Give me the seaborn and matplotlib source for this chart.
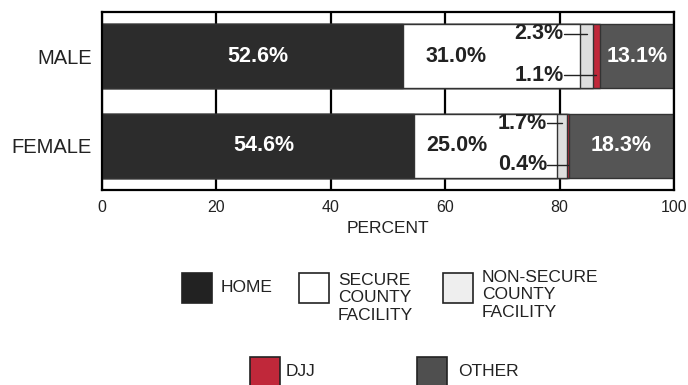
import matplotlib
matplotlib.use("Agg")
import matplotlib.pyplot as plt
from matplotlib.patches import Rectangle
import numpy as np
import pandas as pd
import seaborn as sns

# ---- data ----
groups = ["MALE", "FEMALE"]
categories = ["HOME", "SECURE\nCOUNTY\nFACILITY", "NON-SECURE\nCOUNTY\nFACILITY", "DJJ", "OTHER"]
home = [52.6, 54.6]
secure = [31.0, 25.0]
nonsecure = [2.3, 1.7]
djj = [1.1, 0.4]
other = [13.1, 18.3]
x_ticks = [0, 20, 40, 60, 80, 100]

colors = ["#2c2c2c", "#ffffff", "#dedede", "#c0283a", "#555555"]
legend_colors = ["#222222", "#ffffff", "#eeeeee", "#c0283a", "#4f4f4f"]

sns.set_theme(style="white")
plt.rcParams["font.family"] = ["Liberation Sans", "DejaVu Sans"]

series = [home, secure, nonsecure, djj, other]
cum = np.cumsum(np.array(series), axis=0)

fig = plt.figure(figsize=(6.88, 3.85), dpi=100)
W, H = 688, 385
ax = fig.add_axes([101.5 / W, 1 - 190 / H, (674 - 101.5) / W, (190 - 12) / H])

bar_h = 0.72
# stacked bars drawn as cumulative totals, longest first
for i in reversed(range(len(series))):
    df = pd.DataFrame({"group": groups, "value": cum[i]})
    sns.barplot(data=df, x="value", y="group", orient="y", color=colors[i],
                saturation=1, width=bar_h, edgecolor="#333333", linewidth=1.0,
                ax=ax, zorder=2)

ax.set_xlim(0, 100)
ax.set_ylim(1.494, -0.494)
ax.set_xticks(x_ticks)
ax.set_xticklabels([str(t) for t in x_ticks])
ax.xaxis.grid(True, color="black", linewidth=1.6, zorder=0)
ax.yaxis.grid(False)
ax.set_axisbelow(True)
for s in ax.spines.values():
    s.set_color("black")
    s.set_linewidth(1.6)
    s.set_visible(True)
ax.tick_params(axis="x", length=0, pad=7, labelsize=11.5, colors="#222222")
ax.tick_params(axis="y", length=0, pad=6.8, labelsize=14.5, colors="#222222")
ax.set_ylabel("")
ax.set_xlabel("PERCENT", fontsize=12.5, labelpad=4.5, color="#222222")

# ---- value labels ----
fs = 15.5
for j in range(len(groups)):
    # home
    ax.text(home[j] / 2 + 1, j, f"{home[j]:.1f}%", ha="center", va="center",
            color="white", fontsize=fs, fontweight="bold", zorder=5)
    # secure
    ax.text(home[j] + 0.3 * secure[j], j, f"{secure[j]:.1f}%", ha="center", va="center",
            color="#222222", fontsize=fs, fontweight="bold", zorder=5)
    # other
    start_o = cum[3][j]
    ax.text((start_o + 100) / 2, j, f"{other[j]:.1f}%", ha="center", va="center",
            color="white", fontsize=fs, fontweight="bold", zorder=5)
    # small labels with leaders
    sec_end = cum[1][j]
    tx = sec_end - (2.9 if j == 0 else 1.8)
    for k, dy in ((2, -0.25), (3, 0.21)):
        seg_c = (cum[k - 1][j] + cum[k][j]) / 2
        ax.text(tx, j + dy, f"{series[k][j]:.1f}%", ha="right", va="center",
                color="#222222", fontsize=fs, fontweight="bold", zorder=5)
        ax.plot([tx, seg_c], [j + dy, j + dy], color="#222222", lw=1.0, zorder=6)

# ---- legend (manual layout in pixel space) ----
lax = fig.add_axes([0, 0, 1, 1])
lax.set_xlim(0, W)
lax.set_ylim(H, 0)
lax.axis("off")
box = 30
leg_items = [
    (182, 273, 221, "center"),
    (299, 273, 338, "top"),
    (443, 273, 482, "top"),
    (250, 357, 286, "center"),
    (417, 357, 458, "center"),
]
for (bx, by, tx, va), lab, c in zip(leg_items, categories, legend_colors):
    lax.add_patch(Rectangle((bx, by), box, box, facecolor=c, edgecolor="#222222",
                            linewidth=1.2, clip_on=False))
    if va == "center":
        lax.text(tx, by + 14, lab, ha="left", va="center", fontsize=12.5, color="#222222")
    else:
        lax.text(tx, by - 3 if "NON" in lab else by, lab, ha="left", va="top",
                 fontsize=12.5, color="#222222", linespacing=1.2)

fig.savefig("out.png", dpi=100)
